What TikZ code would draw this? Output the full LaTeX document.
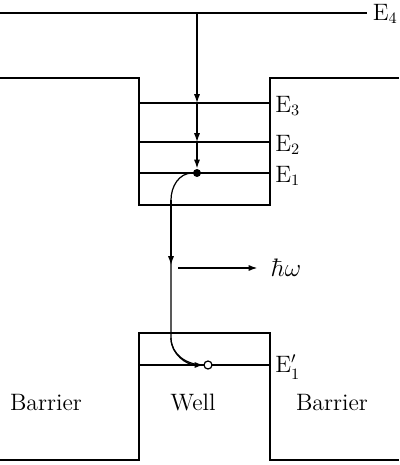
\documentclass[tikz,border=0pt]{standalone}
\usetikzlibrary{arrows.meta}
\begin{document}
\begin{tikzpicture}[x=0.02cm, y=-0.02cm, line width=0.7pt,
    every node/.style={font=\fontsize{13.5}{15}\selectfont},
    lvl/.style={anchor=west, inner sep=1pt},
    tip/.style={-{Latex[length=5pt,width=3.5pt]}}]
    \useasboundingbox (0,0) rectangle (399,465);
    % conduction band
    \draw (0,78) -- (139,78) -- (139,205) -- (270,205) -- (270,78) -- (399,78);
    \draw (139,103) -- (270,103);
    \draw (139,142) -- (270,142);
    \draw (139,173) -- (270,173);
    \node (e4) at (367,14) [lvl, inner sep=3pt] {E$_4$};
    \node (e3) at (273,106) [lvl] {E$_3$};
    \node (e2) at (273,145) [lvl] {E$_2$};
    \node (e1) at (273,176) [lvl] {E$_1$};
    \draw (0,13) -- (e4.west |- 0,13);
    % valence band
    \draw (0,460) -- (139,460) -- (139,333) -- (270,333) -- (270,460) -- (399,460);
    \draw (139,365) -- (270,365);
    \node (e1v) at (273,367) [lvl] {E$'_1$};
    % relaxation and recombination
    \coordinate (top) at (197,13);
    \coordinate (at3) at (197,103);
    \coordinate (at2) at (197,142);
    \node (el) at (197,173) [circle, fill, inner sep=0pt, minimum size=0.16cm] {};
    \node (hole) at (208,365) [circle, draw, fill=white, inner sep=0pt, minimum size=0.16cm] {};
    \draw[tip] (top) -- (at3);
    \draw[tip] (at3) -- (at2);
    \draw[tip] (at2) -- (el);
    \coordinate (c1) at (171,200);
    \coordinate (mid) at (171,265);
    \coordinate (c2) at (171,338);
    \draw (el.west) to[out=180,in=90] (c1) -- (c2) to[out=270,in=180] (hole.west);
    \draw[tip] (c1) -- (mid);
    \draw[tip] (c2) to[out=270,in=180] (hole.west);
    % photon
    \node (hw) at (286,268) {$\hbar\omega$};
    \coordinate (ph) at (178,268);
    \draw[tip, shorten >=4pt] (ph) -- (hw.west);
    % regions
    \node (bl) at (46,403) {Barrier};
    \node (well) at (193,403) {Well};
    \node (br) at (332,403) {Barrier};
\end{tikzpicture}
\end{document}
